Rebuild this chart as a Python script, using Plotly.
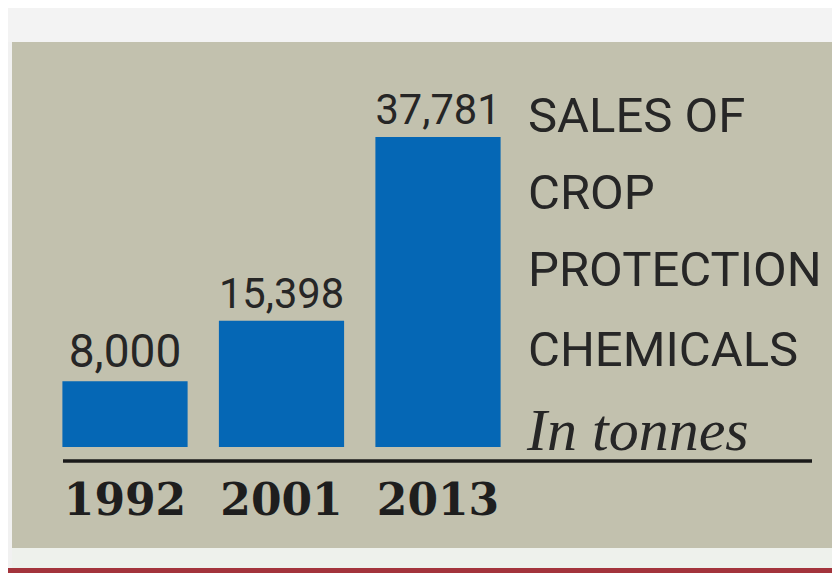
import plotly.graph_objects as go

years = ["1992", "2001", "2013"]
sales = [8000, 15398, 37781]
value_labels = ["8,000", "15,398", "37,781"]
title_lines = ["SALES OF", "CROP", "PROTECTION", "CHEMICALS"]
unit_label = "In tonnes"

W, H = 840, 573
OFF = 8                       # page body margin offset
base_ref = 447                # bar base (reference pixels from top)
plot_h = base_ref - OFF       # margin top 0
px_per_unit_x = 156.5
first_center_ref = 125
ymax = max(sales) * plot_h / 310.0

def py(pix):  # reference pixel-from-top -> paper y
    return (plot_h - (pix - OFF)) / plot_h

def px(pix):  # reference pixel-from-left -> paper x
    return (pix - OFF) / W

sans = "Roboto, 'Liberation Sans', sans-serif"

fig = go.Figure()
fig.add_trace(go.Bar(
    x=list(range(len(years))), y=sales,
    width=0.80,
    marker=dict(color="#0567b5", line=dict(width=0)),
    text=value_labels, textposition="outside",
    textfont=dict(family=sans, size=46, color="#262626"),
    cliponaxis=False,
))

shapes = [
    dict(type="rect", xref="paper", yref="paper", x0=0, x1=1, y0=py(0), y1=py(42),
         fillcolor="#f3f3f3", line_width=0, layer="below"),
    dict(type="rect", xref="paper", yref="paper", x0=px(0), x1=px(12), y0=py(42), y1=py(567),
         fillcolor="#f1f1f1", line_width=0, layer="below"),
    dict(type="rect", xref="paper", yref="paper", x0=px(12), x1=1, y0=py(42), y1=py(548),
         fillcolor="#c2c1ae", line_width=0, layer="below"),
    dict(type="rect", xref="paper", yref="paper", x0=px(12), x1=1, y0=py(548), y1=py(568),
         fillcolor="#eef1ec", line_width=0, layer="below"),
    dict(type="rect", xref="paper", yref="paper", x0=0, x1=1, y0=py(568), y1=py(573),
         fillcolor="#a3343c", line_width=0, layer="below"),
    dict(type="line", xref="paper", yref="paper", x0=px(63), x1=px(812), y0=py(461), y1=py(461),
         line=dict(color="#1a1a1a", width=3.5)),
]

title_bottoms = [146, 223, 300, 380]
annotations = [
    dict(xref="paper", yref="paper", x=px(526), y=py(b), xanchor="left", yanchor="bottom",
         text=t, showarrow=False, align="left",
         font=dict(family=sans, size=49, color="#262626"))
    for t, b in zip(title_lines, title_bottoms)
]
annotations.append(
    dict(xref="paper", yref="paper", x=px(524), y=py(465), xanchor="left", yanchor="bottom",
         text="<i>" + unit_label + "</i>", showarrow=False,
         font=dict(family="Liberation Serif, serif", size=60, color="#262626"))
)

fig.update_layout(
    width=W, height=H,
    margin=dict(l=0, r=0, t=0, b=H - plot_h),
    paper_bgcolor="#f3f3f3", plot_bgcolor="rgba(0,0,0,0)",
    showlegend=False,
    shapes=shapes, annotations=annotations,
    xaxis=dict(
        range=[-(first_center_ref - OFF) / px_per_unit_x, (W - first_center_ref + OFF) / px_per_unit_x],
        tickvals=list(range(len(years))), ticktext=["<b>%s</b>" % y for y in years],
        tickfont=dict(family="DejaVu Serif, serif", size=44, color="#1e1e1e"),
        showgrid=False, zeroline=False, showline=False, ticks="",
        ticklabelstandoff=23,
    ),
    yaxis=dict(range=[0, ymax], visible=False, showgrid=False, zeroline=False),
)

fig.write_html("out.html")
